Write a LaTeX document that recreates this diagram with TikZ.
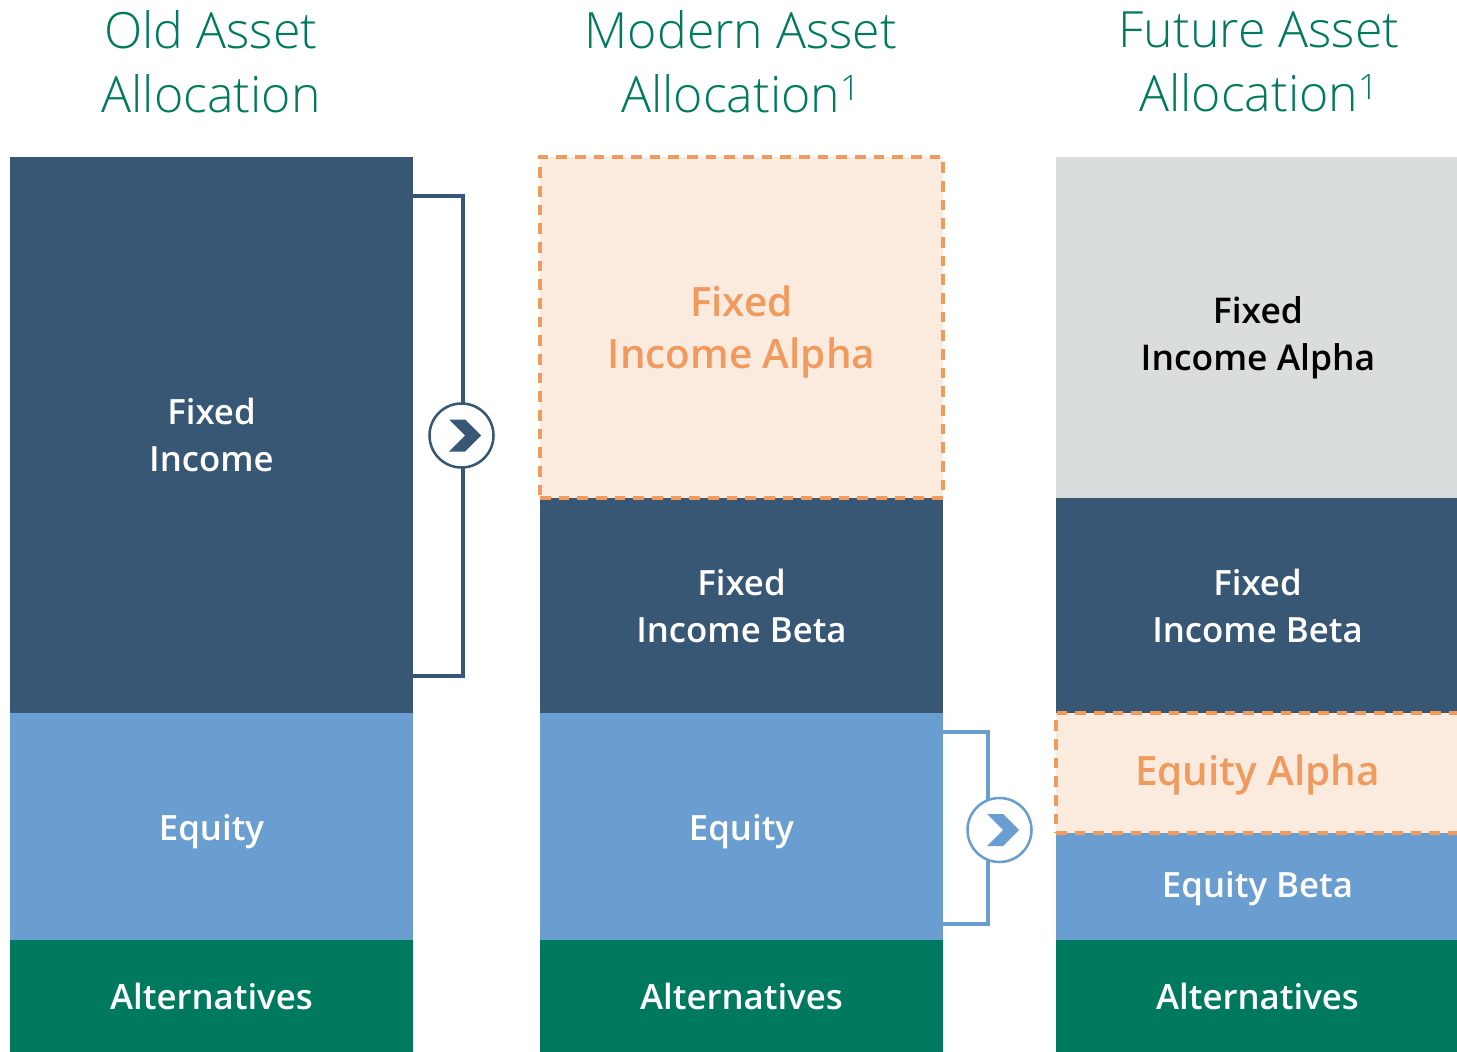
\documentclass[tikz,border=0pt]{standalone}
\usepackage{fontspec}
\setmainfont{Open Sans Semibold}
\newfontfamily\titlefont{Open Sans Light}
\usepackage{xcolor}
\usetikzlibrary{positioning}
\definecolor{navy}{HTML}{375775}
\definecolor{skyblue}{HTML}{6A9DD0}
\definecolor{forest}{HTML}{007A5E}
\definecolor{peach}{HTML}{FBEBDF}
\definecolor{apricot}{HTML}{F09A5E}
\definecolor{mist}{HTML}{DADDDE}

\tikzset{
    block/.style={anchor=north west, minimum width=302.25pt, inner sep=0pt, outer sep=0pt, align=center, font=\fontsize{26.1}{35.2}\selectfont, text=white},
    navyblock/.style={block, fill=navy},
    blueblock/.style={block, fill=skyblue},
    greenblock/.style={block, fill=forest},
    greyblock/.style={block, fill=mist},
    alphablock/.style={block, fill=peach, draw=apricot, line width=2.4pt, dash pattern=on 8pt off 6pt, text=apricot, font=\fontsize{30.3}{39.7}\selectfont},
    alphatext/.style={align=center, inner sep=0pt, text=apricot, font=\fontsize{30.3}{39.7}\selectfont},
    greytext/.style={align=center, inner sep=0pt, text=black, font=\fontsize{26.6}{35.6}\selectfont},
    drop/.style={execute at begin node={\rule{0pt}{#1}}},
    heading/.style={align=center, text=forest, inner sep=0pt, font=\titlefont\fontsize{37.5}{48}\selectfont},
    turn/.style={circle, draw=#1, fill=white, line width=1.9pt, minimum size=48pt, inner sep=0pt}
}

\begin{document}
\begin{tikzpicture}[x=0.75pt, y=-0.75pt]
    \useasboundingbox (0,0) rectangle (1457,1052);

    % headings
    \node[heading] (oldhead) at (211,62) {Old Asset\\Allocation};
    \node[heading] (modernhead) at (741,62) {Modern Asset\\Allocation\textsuperscript{1}};
    \node[heading] (futurehead) at (1259,62) {Future Asset\\Allocation\textsuperscript{1}};

    % old column
    \node[navyblock, minimum height=417pt] (oldfixed) at (10,157) {Fixed\\Income};
    \node[blueblock, minimum height=170.25pt, drop=28pt] (oldequity) at (10,713) {Equity};
    \node[greenblock, minimum height=84pt, drop=21pt] (oldalt) at (10,940) {Alternatives};

    % modern column
    \node[navyblock, minimum height=161.25pt] (modernbeta) at (540,498) {Fixed\\Income Beta};
    \node[alphablock, minimum height=255.75pt] (modernalpha) at (540,157) {};
    \node[alphatext] (modernalphatext) at (741.5,332) {Fixed\\Income Alpha};
    \node[blueblock, minimum height=170.25pt, drop=28pt] (modernequity) at (540,713) {Equity};
    \node[greenblock, minimum height=84pt, drop=21pt] (modernalt) at (540,940) {Alternatives};

    % future column
    \node[greyblock, minimum height=255.75pt] (futurealpha) at (1056,157) {};
    \node[greytext] (futurealphatext) at (1258,338) {Fixed\\Income Alpha};
    \node[navyblock, minimum height=161.25pt] (futurebeta) at (1056,498) {Fixed\\Income Beta};
    \node[blueblock, minimum height=80.25pt, drop=23pt] (futureequity) at (1056,833) {Equity Beta};
    \node[alphablock, minimum height=90pt, drop=26pt] (futureequityalpha) at (1056,713) {Equity Alpha};
    \node[greenblock, minimum height=84pt, drop=21pt] (futurealt) at (1056,940) {Alternatives};

    % brackets
    \coordinate (fixedtop) at (463,196);
    \coordinate (fixedbottom) at (463,676);
    \coordinate (equitytop) at (988,732);
    \coordinate (equitybottom) at (988,924);
    \draw[navy, line width=2.8pt] (oldfixed.east |- fixedtop) -- (fixedtop) -- (fixedbottom) -- (oldfixed.east |- fixedbottom);
    \draw[skyblue, line width=2.8pt] (modernequity.east |- equitytop) -- (equitytop) -- (equitybottom) -- (modernequity.east |- equitybottom);

    % arrows on the brackets
    \node[turn=navy] (fixedturn) at (461.5,435.5) {};
    \node[turn=skyblue] (equityturn) at (999.5,830) {};
    \fill[navy, shift={(fixedturn)}] (-12.5,-16) -- (3.5,-16) -- (19.5,0) -- (3.5,16) -- (-12.5,16) -- (3.5,0) -- cycle;
    \fill[skyblue, shift={(equityturn)}] (-12.5,-16) -- (3.5,-16) -- (19.5,0) -- (3.5,16) -- (-12.5,16) -- (3.5,0) -- cycle;
\end{tikzpicture}
\end{document}
